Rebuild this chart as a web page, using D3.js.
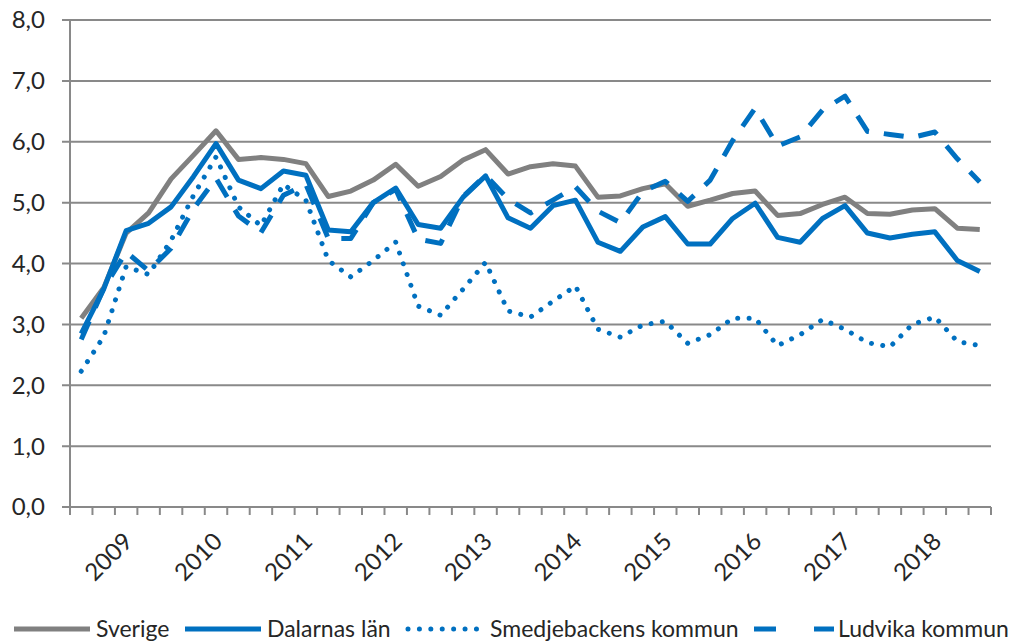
<!DOCTYPE html>
<html>
<head>
<meta charset="utf-8">
<script src="https://cdn.jsdelivr.net/npm/d3@7"></script>
<style>
  body { margin: 0; background: #fff; }
  svg { display: block; font-family: Lato, "Open Sans", sans-serif; }
</style>
</head>
<body>
<svg width="1025" height="643"></svg>
<script>
// quarters, 2008 K4 .. 2018 K4
const quarters = [
  "2008 K4",
  "2009 K1", "2009 K2", "2009 K3", "2009 K4",
  "2010 K1", "2010 K2", "2010 K3", "2010 K4",
  "2011 K1", "2011 K2", "2011 K3", "2011 K4",
  "2012 K1", "2012 K2", "2012 K3", "2012 K4",
  "2013 K1", "2013 K2", "2013 K3", "2013 K4",
  "2014 K1", "2014 K2", "2014 K3", "2014 K4",
  "2015 K1", "2015 K2", "2015 K3", "2015 K4",
  "2016 K1", "2016 K2", "2016 K3", "2016 K4",
  "2017 K1", "2017 K2", "2017 K3", "2017 K4",
  "2018 K1", "2018 K2", "2018 K3", "2018 K4"
];
// year label goes on the K2 quarter
const yearTicks = ["2009 K2", "2010 K2", "2011 K2", "2012 K2", "2013 K2",
  "2014 K2", "2015 K2", "2016 K2", "2017 K2", "2018 K2"];
const yTicks = [0, 1, 2, 3, 4, 5, 6, 7, 8];

const sverige = [3.10, 3.60, 4.50, 4.83, 5.39, 5.78, 6.18, 5.71, 5.74, 5.71,
  5.64, 5.10, 5.19, 5.37, 5.63, 5.27, 5.43, 5.70, 5.87, 5.47,
  5.59, 5.64, 5.60, 5.09, 5.11, 5.23, 5.31, 4.94, 5.04, 5.15,
  5.19, 4.79, 4.82, 4.97, 5.09, 4.82, 4.81, 4.88, 4.90, 4.58, 4.56];
const dalarna = [2.85, 3.58, 4.54, 4.66, 4.93, 5.43, 5.97, 5.37, 5.23, 5.52,
  5.45, 4.55, 4.52, 5.00, 5.24, 4.64, 4.58, 5.09, 5.44, 4.75,
  4.58, 4.95, 5.04, 4.35, 4.20, 4.60, 4.77, 4.32, 4.32, 4.74,
  4.99, 4.43, 4.35, 4.74, 4.95, 4.50, 4.42, 4.48, 4.52, 4.05, 3.87];
const smedjebacken = [2.23, 2.80, 3.95, 3.82, 4.38, 5.12, 5.75, 4.93, 4.62, 5.30,
  5.04, 4.05, 3.78, 4.05, 4.35, 3.30, 3.15, 3.58, 4.02, 3.22,
  3.12, 3.38, 3.63, 2.92, 2.79, 2.99, 3.05, 2.69, 2.83, 3.10,
  3.10, 2.65, 2.83, 3.08, 2.92, 2.70, 2.63, 3.00, 3.12, 2.72, 2.65];
const ludvika = [2.75, 3.59, 4.19, 3.88, 4.25, 4.90, 5.40, 4.78, 4.51, 5.12,
  5.30, 4.41, 4.41, 5.00, 5.22, 4.40, 4.33, 5.10, 5.45, 5.06,
  4.83, 5.04, 5.26, 4.86, 4.67, 5.18, 5.35, 5.02, 5.37, 6.02,
  6.55, 5.93, 6.08, 6.52, 6.75, 6.17, 6.12, 6.07, 6.16, 5.72, 5.34];

const seriesNames = ["Sverige", "Dalarnas län", "Smedjebackens kommun", "Ludvika kommun"];
const seriesValues = [sverige, dalarna, smedjebacken, ludvika];

const blue = "#0070c0", grey = "#808080", gridCol = "#898989";
const styles = [
  { color: grey, dash: null, cap: "butt" },
  { color: blue, dash: null, cap: "butt" },
  { color: blue, dash: "0.01 11.4", cap: "round" },
  { color: blue, dash: "20 15", cap: "butt" }
];

const svg = d3.select("svg");
const plotL = 70, plotR = 991, plotT = 20, plotB = 507;

const x = d3.scaleBand().domain(quarters).range([plotL, plotR]).padding(0);
const y = d3.scaleLinear().domain([0, 8]).range([plotB, plotT]);
const cx = (q) => x(q) + x.bandwidth() / 2;
const fmt = (v) => d3.format(".1f")(v).replace(".", ",");

// grid + y labels
svg.append("g")
  .selectAll("line")
  .data(yTicks)
  .join("line")
    .attr("x1", plotL - 8).attr("x2", plotR)
    .attr("y1", (d) => y(d)).attr("y2", (d) => y(d))
    .attr("stroke", gridCol).attr("stroke-width", 2);

svg.append("g")
  .selectAll("text")
  .data(yTicks)
  .join("text")
    .attr("x", 45).attr("y", (d) => y(d))
    .attr("dy", "0.35em")
    .attr("text-anchor", "end")
    .style("font-size", "24px")
    .attr("fill", "#262626")
    .text(fmt);

// y axis line
svg.append("line")
  .attr("x1", plotL).attr("x2", plotL).attr("y1", plotT).attr("y2", plotB)
  .attr("stroke", gridCol).attr("stroke-width", 2);

// x tick marks between categories
const bounds = quarters.map((q) => x(q)).concat([plotR]);
svg.append("g")
  .selectAll("line")
  .data(bounds)
  .join("line")
    .attr("x1", (d) => d).attr("x2", (d) => d)
    .attr("y1", plotB).attr("y2", plotB + 8)
    .attr("stroke", gridCol).attr("stroke-width", 2);

svg.append("g")
  .selectAll("text")
  .data(yearTicks)
  .join("text")
    .attr("transform", (d) => `translate(${cx(d) + 2},${plotB + 30}) rotate(-45)`)
    .attr("dy", "0.35em")
    .attr("text-anchor", "end")
    .style("font-size", "24px")
    .attr("fill", "#262626")
    .text((d) => d.slice(0, 4));

// series
const line = d3.line()
  .x((d, i) => cx(quarters[i]))
  .y((d) => y(d));

svg.append("g")
  .selectAll("path")
  .data(seriesValues)
  .join("path")
    .attr("d", line)
    .attr("fill", "none")
    .attr("stroke", (d, i) => styles[i].color)
    .attr("stroke-width", 5)
    .attr("stroke-dasharray", (d, i) => styles[i].dash)
    .attr("stroke-linecap", (d, i) => styles[i].cap)
    .attr("stroke-linejoin", "round");

// legend (sits at the very bottom edge, as in the original)
const legendX = [12, 183, 406, 752];
const legY = 629;
const leg = svg.append("g")
  .selectAll("g")
  .data(seriesNames)
  .join("g")
    .attr("transform", (d, i) => `translate(${legendX[i]},${legY})`);

leg.append("line")
  .attr("x1", 2).attr("x2", (d, i) => (i === 3 ? 82 : 78))
  .attr("stroke", (d, i) => styles[i].color)
  .attr("stroke-width", 5)
  .attr("stroke-dasharray", (d, i) => (i === 3 ? "22 38" : styles[i].dash))
  .attr("stroke-linecap", (d, i) => styles[i].cap);

leg.append("text")
  .attr("x", (d, i) => (i === 3 ? 86 : 84))
  .attr("dy", "0.35em")
  .style("font-size", "23px")
  .attr("fill", "#262626")
  .text((d) => d);
</script>
</body>
</html>
